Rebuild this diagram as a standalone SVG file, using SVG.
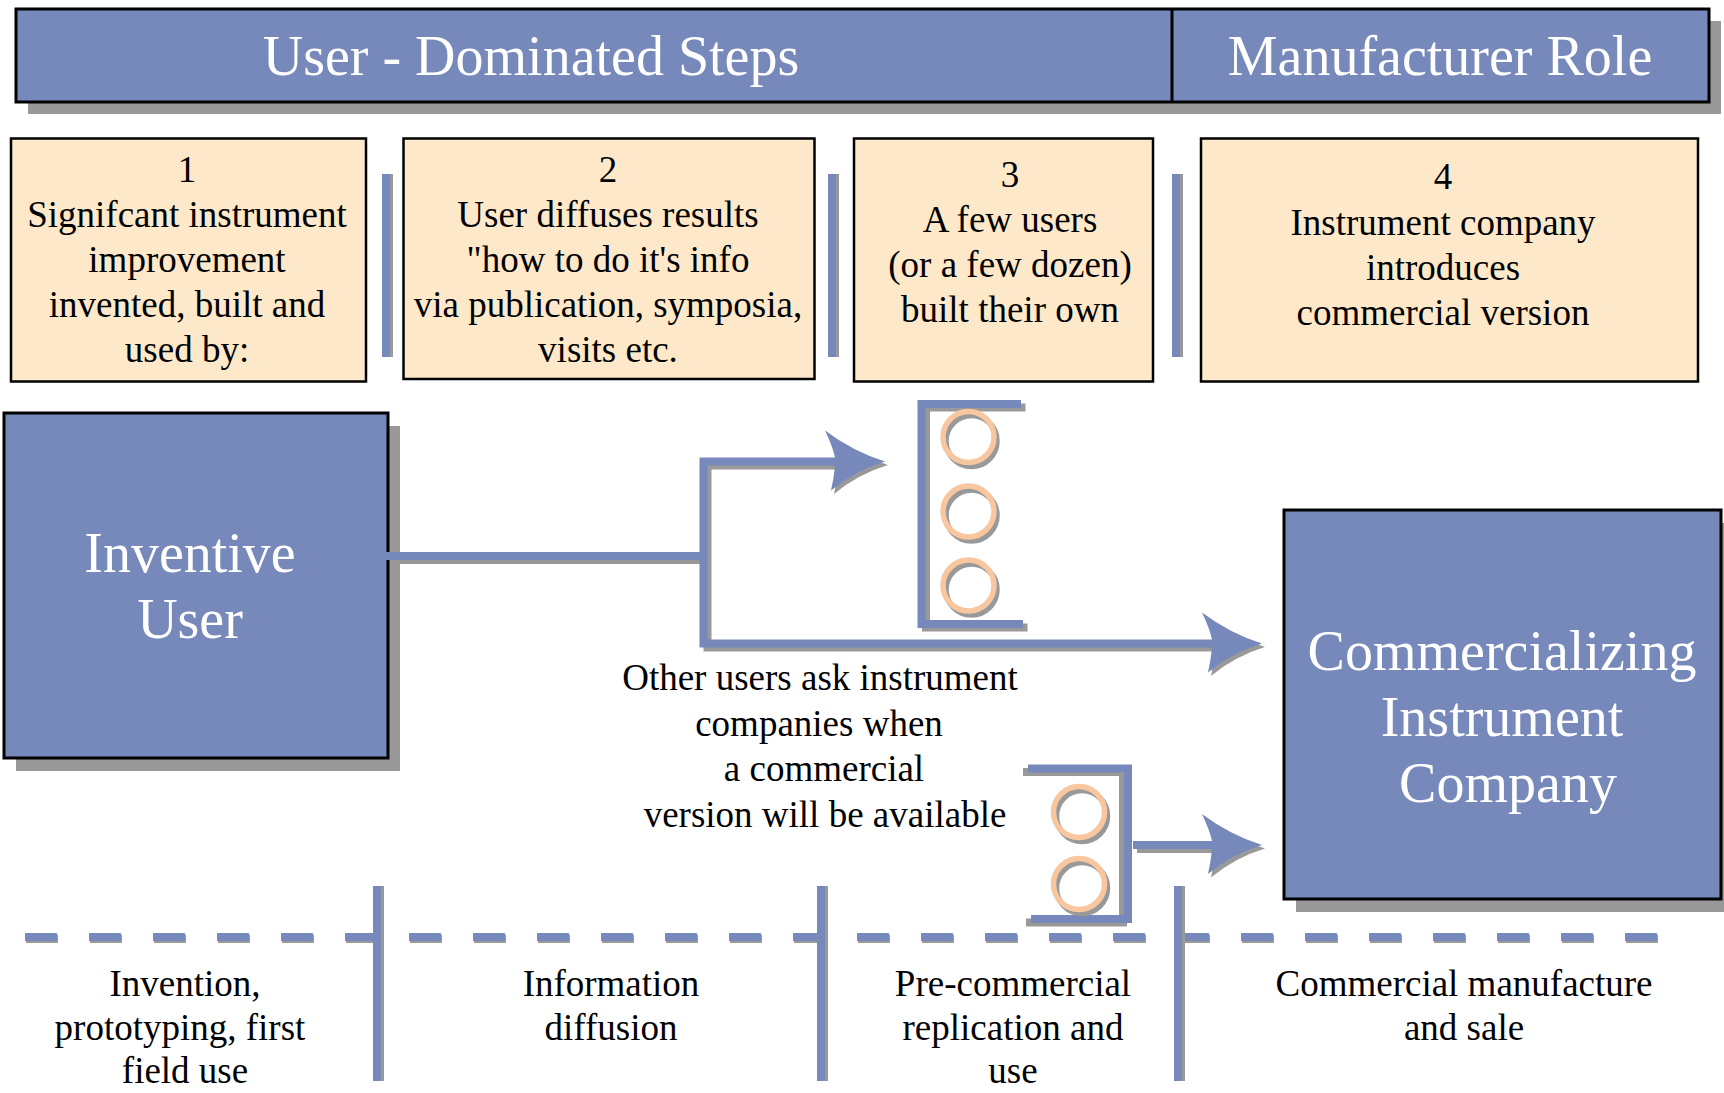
<svg xmlns="http://www.w3.org/2000/svg" xmlns:xlink="http://www.w3.org/1999/xlink" width="1724" height="1093" viewBox="0 0 1724 1093">
  <style>
    .hd { font-family: "Liberation Serif", "Times New Roman", serif; font-size: 56px; fill: #ffffff; text-anchor: middle; }
    .bt { font-family: "Liberation Serif", "Times New Roman", serif; font-size: 37px; fill: #000000; text-anchor: middle; }
    .blue { fill: #7788BB; }
    .shadow { fill: #999999; }
    .panel { fill: #7788BB; stroke: #000000; stroke-width: 3; }
    .step { fill: #FDE9C9; stroke: #000000; stroke-width: 2.5; }
    .wire { fill: none; stroke: #7788BB; stroke-width: 8; stroke-linejoin: miter; }
    .wire-sh { fill: none; stroke: #999999; stroke-width: 8; stroke-linejoin: miter; }
    .ring { fill: none; stroke: #F8C7A0; stroke-width: 5.5; }
    .ring-sh { fill: none; stroke: #999999; stroke-width: 5.5; }
    .dash { fill: none; stroke: #7788BB; stroke-width: 8; stroke-dasharray: 32 32; }
    .dash-sh { fill: none; stroke: #999999; stroke-width: 8; stroke-dasharray: 32 32; }
  </style>
  <defs>
    <!-- curved swoosh arrowhead, tip at origin, pointing right -->
    <path id="arrowhead" d="M0,0 Q-32,-10 -60,-31 Q-52,-14 -50,-4 L-50,4 Q-51,16 -54,29 Q-30,9 0,0 Z"/>
    <g id="rings">
      <circle class="ring-sh" cx="3" cy="4" r="25.5"/>
      <circle class="ring" cx="0" cy="0" r="25.5"/>
    </g>
  </defs>

  <!-- title bar -->
  <g id="header">
    <rect class="shadow" x="28" y="21" width="1693" height="93"/>
    <rect class="panel" x="16" y="9" width="1693" height="93"/>
    <line x1="1172" y1="9" x2="1172" y2="102" stroke="#000000" stroke-width="3"/>
    <text class="hd" x="531" y="75">User - Dominated Steps</text>
    <text class="hd" x="1440" y="75">Manufacturer Role</text>
  </g>

  <!-- numbered step boxes -->
  <g id="step1">
    <rect class="step" x="11" y="138.5" width="355" height="243"/>
    <text class="bt" x="187" y="181.5">1</text>
    <text class="bt" x="187" y="226.5">Signifcant instrument</text>
    <text class="bt" x="187" y="271.5">improvement</text>
    <text class="bt" x="187" y="316.5">invented, built and</text>
    <text class="bt" x="187" y="361.5">used by:</text>
  </g>
  <g id="step2">
    <rect class="step" x="403.5" y="138.5" width="411" height="240.5"/>
    <text class="bt" x="608" y="181.5">2</text>
    <text class="bt" x="608" y="226.5">User diffuses results</text>
    <text class="bt" x="608" y="271.5">"how to do it's info</text>
    <text class="bt" x="608" y="316.5">via publication, symposia,</text>
    <text class="bt" x="608" y="361.5">visits etc.</text>
  </g>
  <g id="step3">
    <rect class="step" x="854" y="138.5" width="299" height="243"/>
    <text class="bt" x="1010" y="187">3</text>
    <text class="bt" x="1010" y="232">A few users</text>
    <text class="bt" x="1010" y="277">(or a few dozen)</text>
    <text class="bt" x="1010" y="322">built their own</text>
  </g>
  <g id="step4">
    <rect class="step" x="1201" y="138.5" width="497" height="243"/>
    <text class="bt" x="1443" y="189">4</text>
    <text class="bt" x="1443" y="235">Instrument company</text>
    <text class="bt" x="1443" y="280">introduces</text>
    <text class="bt" x="1443" y="325">commercial version</text>
  </g>

  <!-- bars between the step boxes -->
  <g id="step-separators">
    <rect class="shadow" x="385" y="174" width="8" height="183"/>
    <rect class="blue" x="382" y="174" width="8" height="183"/>
    <rect class="shadow" x="831" y="174" width="8" height="183"/>
    <rect class="blue" x="828" y="174" width="8" height="183"/>
    <rect class="shadow" x="1175" y="174" width="8" height="183"/>
    <rect class="blue" x="1172" y="174" width="8" height="183"/>
  </g>

  <g id="inventive-user">
    <rect class="shadow" x="16" y="426" width="384" height="345"/>
    <rect class="panel" x="4" y="413" width="384" height="345" stroke-width="2.5"/>
    <text class="hd" x="190" y="572">Inventive</text>
    <text class="hd" x="190" y="638">User</text>
  </g>

  <g id="instrument-company">
    <rect class="shadow" x="1296" y="523" width="437" height="389"/>
    <rect class="panel" x="1284" y="510" width="437" height="389" stroke-width="2.5"/>
    <text class="hd" x="1502" y="670">Commercializing</text>
    <text class="hd" x="1502" y="736">Instrument</text>
    <text class="hd" x="1508" y="802">Company</text>
  </g>

  <!-- group of early users who build their own -->
  <g id="early-users">
    <path class="wire-sh" transform="translate(4.5,3.5)" d="M1021 404 H921.5 V624 H1023"/>
    <path class="wire" d="M1021 404 H921.5 V624 H1023"/>
    <use xlink:href="#rings" href="#rings" x="968.5" y="437"/>
    <use xlink:href="#rings" href="#rings" x="968.5" y="511.5"/>
    <use xlink:href="#rings" href="#rings" x="968.5" y="585.5"/>
  </g>

  <!-- other users asking for a commercial version -->
  <g id="other-users">
    <path class="wire-sh" transform="translate(-5,3.5)" d="M1028 768.5 H1128 V919 H1031"/>
    <path class="wire" d="M1028 768.5 H1128 V919 H1031"/>
    <use xlink:href="#rings" href="#rings" x="1079" y="812"/>
    <use xlink:href="#rings" href="#rings" x="1079" y="884"/>
  </g>

  <g id="request-label">
    <text class="bt" x="820" y="690">Other users ask instrument</text>
    <text class="bt" x="819" y="735.5">companies when</text>
    <text class="bt" x="824" y="781">a commercial</text>
    <text class="bt" x="825" y="826.5">version will be available</text>
  </g>

  <g id="connectors">
    <!-- shadows -->
    <path class="wire-sh" transform="translate(4,4)" d="M386 556 H703"/>
    <path class="wire-sh" transform="translate(4,4)" d="M845 461.5 H703.5 V643.5 H1220"/>
    <path class="wire-sh" transform="translate(4,4)" d="M1133 845 H1220"/>
    <use xlink:href="#arrowhead" href="#arrowhead" class="shadow" transform="translate(888,465)"/>
    <use xlink:href="#arrowhead" href="#arrowhead" class="shadow" transform="translate(1265,647)"/>
    <use xlink:href="#arrowhead" href="#arrowhead" class="shadow" transform="translate(1265,848.5)"/>
    <!-- lines -->
    <path class="wire" d="M386 556 H703"/>
    <path class="wire" d="M845 461.5 H703.5 V643.5 H1220"/>
    <path class="wire" d="M1133 845 H1220"/>
    <use xlink:href="#arrowhead" href="#arrowhead" class="blue" transform="translate(885,461.5)"/>
    <use xlink:href="#arrowhead" href="#arrowhead" class="blue" transform="translate(1262,643.5)"/>
    <use xlink:href="#arrowhead" href="#arrowhead" class="blue" transform="translate(1262,845)"/>
  </g>

  <!-- phase timeline -->
  <g id="timeline">
    <path class="dash-sh" transform="translate(1,2)" d="M25 937 H1657"/>
    <path class="dash" d="M25 937 H1657"/>
    <rect class="shadow" x="376" y="886" width="8" height="195"/>
    <rect class="blue" x="373" y="886" width="8" height="195"/>
    <rect class="shadow" x="820" y="886" width="8" height="195"/>
    <rect class="blue" x="817" y="886" width="8" height="195"/>
    <rect class="shadow" x="1177" y="886" width="8" height="195"/>
    <rect class="blue" x="1174" y="886" width="8" height="195"/>
  </g>

  <g id="phase1">
    <text class="bt" x="185" y="996">Invention,</text>
    <text class="bt" x="180" y="1040">prototyping, first</text>
    <text class="bt" x="185" y="1083">field use</text>
  </g>
  <g id="phase2">
    <text class="bt" x="611" y="996">Information</text>
    <text class="bt" x="611" y="1040">diffusion</text>
  </g>
  <g id="phase3">
    <text class="bt" x="1013" y="996">Pre-commercial</text>
    <text class="bt" x="1013" y="1040">replication and</text>
    <text class="bt" x="1013" y="1083">use</text>
  </g>
  <g id="phase4">
    <text class="bt" x="1464" y="996">Commercial manufacture</text>
    <text class="bt" x="1464" y="1040">and sale</text>
  </g>
</svg>
